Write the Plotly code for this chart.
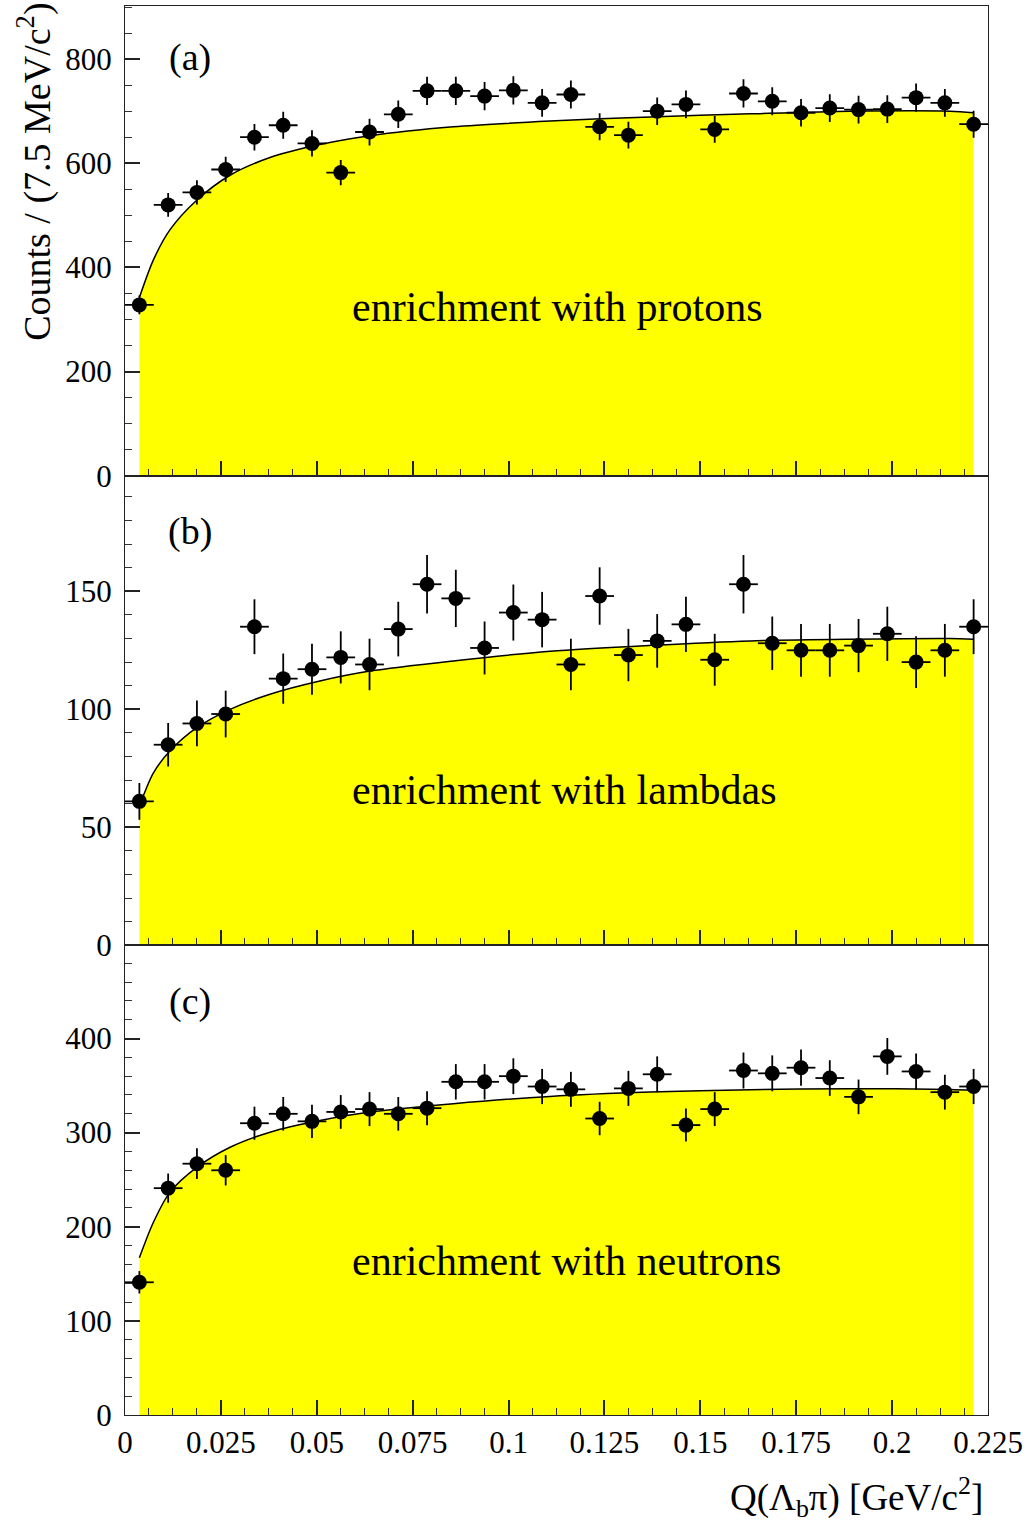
import numpy as np
import plotly.graph_objects as go
from plotly.subplots import make_subplots

# Q-value bin centres (7.5 MeV/c^2 bins) in GeV/c^2
q_centers = [0.00375, 0.01125, 0.01875, 0.02625, 0.03375, 0.04125, 0.04875, 0.05625,
             0.06375, 0.07125, 0.07875, 0.08625, 0.09375, 0.10125, 0.10875, 0.11625,
             0.12375, 0.13125, 0.13875, 0.14625, 0.15375, 0.16125, 0.16875, 0.17625,
             0.18375, 0.19125, 0.19875, 0.20625, 0.21375, 0.22125]
half_bin = 0.00375

# Counts per bin
counts_protons = [328, 520, 544, 588, 650, 673, 638, 582, 660, 694, 739, 739, 729, 740, 716,
                  732, 670, 654, 700, 713, 665, 734, 719, 697, 706, 703, 704, 726, 716, 675]
counts_lambdas = [61, 85, 94, 98, 135, 113, 117, 122, 119, 134, 153, 147, 126, 141, 138,
                  119, 148, 123, 129, 136, 121, 153, 128, 125, 125, 127, 132, 120, 125, 135]
counts_neutrons = [141, 241, 267, 260, 310, 320, 312, 322, 325, 320, 326, 354, 354, 360, 349,
                   346, 315, 347, 362, 308, 325, 366, 363, 369, 358, 338, 381, 365, 343, 349]

# Background fit curves sampled along Q
fit_q = [0.00375, 0.00738, 0.0117, 0.0187, 0.0274, 0.0378, 0.0508, 0.0639, 0.0856,
         0.1108, 0.1369, 0.163, 0.189, 0.2151, 0.22125]
fit_protons = [342, 414, 472, 529, 577, 611, 636, 653, 670, 681, 689, 695, 700, 700, 697]
fit_lambdas = [59, 73, 82.3, 92.2, 100, 106.4, 112, 116.2, 120.5, 124.6, 127.1, 129, 129.7, 130, 129.7]
fit_neutrons = [167, 204.5, 236.5, 263, 284.5, 300.5, 312.9, 321.8, 330.7, 338.5, 343.1, 345.6,
                346.7, 345.9, 344.9]

panel_tags = ["(a)", "(b)", "(c)"]
panel_texts = ["enrichment with protons", "enrichment with lambdas", "enrichment with neutrons"]
x_ticks = [0, 0.025, 0.05, 0.075, 0.1, 0.125, 0.15, 0.175, 0.2, 0.225]
x_tick_text = ["0", "0.025", "0.05", "0.075", "0.1", "0.125", "0.15", "0.175", "0.2", "0.225"]

panels = [
    dict(counts=counts_protons, fit=fit_protons, yrange=[0, 902], dtick=200, minor=50,
         tag_y=0.891, text_y=0.36),
    dict(counts=counts_lambdas, fit=fit_lambdas, yrange=[0, 199], dtick=50, minor=10,
         tag_y=0.881, text_y=0.33),
    dict(counts=counts_neutrons, fit=fit_neutrons, yrange=[0, 499], dtick=100, minor=20,
         tag_y=0.881, text_y=0.328),
]

FONT = "Liberation Serif, Times New Roman, serif"

fig = make_subplots(rows=3, cols=1, shared_xaxes=True, vertical_spacing=0)

for i, p in enumerate(panels):
    row = i + 1
    # fitted background, filled yellow down to zero
    fig.add_trace(go.Scatter(
        x=fit_q, y=p["fit"], mode="lines",
        line=dict(color="black", width=1.5, shape="spline", smoothing=0.8),
        fill="tozeroy", fillcolor="#ffff00", hoverinfo="skip", showlegend=False,
    ), row=row, col=1)
    # data points with Poisson errors
    err = np.sqrt(np.array(p["counts"], dtype=float))
    fig.add_trace(go.Scatter(
        x=q_centers, y=p["counts"], mode="markers",
        marker=dict(color="black", size=15, symbol="circle"),
        error_y=dict(type="data", array=err, color="black", thickness=1.8, width=0),
        error_x=dict(type="constant", value=half_bin, color="black", thickness=1.8, width=0),
        showlegend=False,
    ), row=row, col=1)

    fig.update_yaxes(
        row=row, col=1, range=p["yrange"], tick0=0, dtick=p["dtick"],
        ticks="inside", ticklen=15, tickwidth=1.5, tickcolor="#222",
        minor=dict(ticks="inside", ticklen=7, dtick=p["minor"], tick0=0, tickwidth=1.2,
                   tickcolor="#333"),
        showline=True, linecolor="#222", linewidth=1.3, mirror=True,
        showgrid=False, zeroline=False, ticklabelstandoff=6,
        tickfont=dict(family=FONT, size=31, color="black"),
    )
    fig.update_xaxes(
        row=row, col=1, range=[0, 0.225], tickvals=x_ticks, ticktext=x_tick_text,
        ticks="inside", ticklen=15, tickwidth=1.5, tickcolor="#222",
        minor=dict(ticks="inside", ticklen=7, dtick=0.00625, tick0=0, tickwidth=1.2,
                   tickcolor="#333"),
        showline=True, linecolor="#222", linewidth=1.3, mirror=True,
        showgrid=False, zeroline=False, showticklabels=(row == 3),
        tickfont=dict(family=FONT, size=31, color="black"),
    )

    xd = "x domain" if row == 1 else f"x{row} domain"
    yd = "y domain" if row == 1 else f"y{row} domain"
    fig.add_annotation(text=panel_tags[i], xref=xd, yref=yd, x=0.0753, y=p["tag_y"],
                       xanchor="center", yanchor="middle", showarrow=False,
                       font=dict(family=FONT, size=38, color="black"))
    fig.add_annotation(text=panel_texts[i], xref=xd, yref=yd, x=0.2607, y=p["text_y"],
                       xanchor="left", yanchor="middle", showarrow=False,
                       font=dict(family=FONT, size=42, color="black"))

# axis titles
fig.add_annotation(text="Counts / (7.5 MeV/c<sup>2</sup>)", xref="paper", yref="paper",
                   x=-0.1048, y=0.882, textangle=-90, xanchor="center", yanchor="middle",
                   showarrow=False, font=dict(family=FONT, size=38, color="black"))
fig.add_annotation(text="Q(\u039b<sub>b</sub>\u03c0) [GeV/c<sup>2</sup>]", xref="paper",
                   yref="paper", x=0.9965, y=-0.058, xanchor="right", yanchor="middle",
                   showarrow=False, font=dict(family=FONT, size=37, color="black"))

fig.update_layout(
    width=1028, height=1526,
    margin=dict(l=125, r=40, t=6, b=111),
    paper_bgcolor="white", plot_bgcolor="white",
    font=dict(family=FONT, color="black"),
)

fig.write_html("out.html")
